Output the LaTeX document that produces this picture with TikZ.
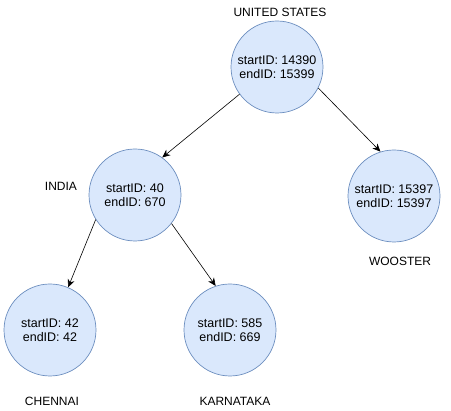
\documentclass[tikz,border=0pt]{standalone}
\usepackage{fontspec}
\setmainfont{Liberation Sans}
\definecolor{cityfill}{HTML}{DAE8FC}
\definecolor{cityline}{HTML}{6C8EBF}
\usetikzlibrary{arrows.meta}

\begin{document}
\begin{tikzpicture}[x=1pt, y=-1pt,
      city/.style={circle, draw=cityline, fill=cityfill, line width=0.7pt, minimum size=92pt,
                   inner sep=0pt, align=center, font=\fontsize{12.5}{14}\selectfont},
      lbl/.style={font=\fontsize{12}{14}\selectfont},
      arr/.style={-{Stealth[length=8pt,width=7pt]}, line width=0.6pt}
    ]
      \useasboundingbox (0,0) rectangle (451,411);
      \node[city] (us) at (277,67) {startID: 14390\\endID: 15399};
      \node[city] (india) at (135,195) {startID: 40\\endID: 670};
      \node[city] (wooster) at (394,196) {startID: 15397\\endID: 15397};
      \node[city] (chennai) at (50,330) {startID: 42\\endID: 42};
      \node[city] (karnataka) at (230,330) {startID: 585\\endID: 669};
      \node[lbl] (uslbl) at (280,12) {UNITED STATES};
      \node[lbl] (indialbl) at (61,186) {INDIA};
      \node[lbl] (woosterlbl) at (400,261) {WOOSTER};
      \node[lbl] (chennailbl) at (52,401) {CHENNAI};
      \node[lbl] (karnatakalbl) at (235,401) {KARNATAKA};
      \draw[arr] (us.216) -- (india.54);
      \draw[arr] (us.333) -- (wooster.107);
      \draw[arr] (india.212) -- (chennai.67);
      \draw[arr] (india.322) -- (karnataka.108);
    \end{tikzpicture}
\end{document}
